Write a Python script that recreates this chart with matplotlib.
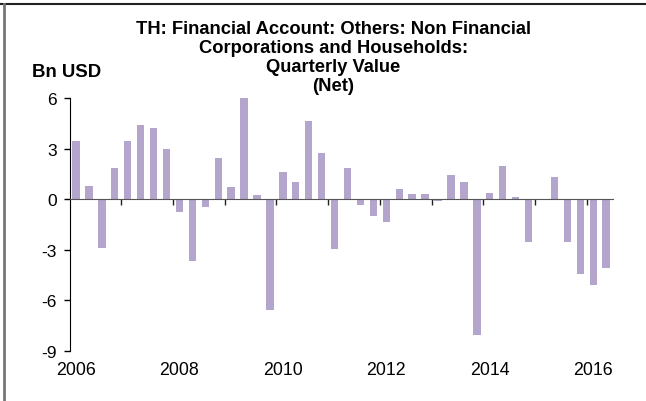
import numpy as np
import matplotlib.pyplot as plt
from matplotlib.lines import Line2D

plt.rcParams['font.family'] = ['Liberation Sans', 'DejaVu Sans']

# quarterly values, 2006Q1 .. 2016Q2 (Bn USD)
values = [3.45, 0.81, -2.90, 1.83,
          3.47, 4.40, 4.23, 2.96,
          -0.75, -3.67, -0.44, 2.44,
          0.73, 5.99, 0.22, -6.57,
          1.63, 1.01, 4.64, 2.74,
          -2.96, 1.83, -0.32, -0.99,
          -1.37, 0.62, 0.32, 0.28,
          -0.10, 1.41, 1.01, -8.08,
          0.36, 1.98, 0.12, -2.56,
          -0.06, 1.29, -2.52, -4.46,
          -5.10, -4.09]
start_year = 2006
year_labels = ['2006', '2008', '2010', '2012', '2014', '2016']
y_ticks = [-9, -6, -3, 0, 3, 6]
title_lines = ['TH: Financial Account: Others: Non Financial',
               'Corporations and Households:',
               'Quarterly Value',
               '(Net)']

x = start_year + (np.arange(len(values)) + 0.5) / 4.0

fig = plt.figure(figsize=(6.46, 4.02), dpi=100)
ax = fig.add_axes([0.1076, 0.1256, 0.8407, 0.6274])

ax.bar(x, values, width=0.25 * 0.57, color='#b3a5cc', zorder=2)

ax.set_xlim(start_year, start_year + len(values) / 4.0)
ax.set_ylim(-9, 6)
ax.set_yticks(y_ticks)
ax.set_yticklabels([str(v) for v in y_ticks], fontsize=12.5)
ax.tick_params(axis='y', direction='out', length=4, width=1, pad=5, color='black')

# x axis sits on the zero line, ticks at year boundaries
ax.spines['bottom'].set_position(('data', 0))
ax.spines['bottom'].set_color('#555555')
ax.spines['bottom'].set_zorder(3)
ax.set_xticks(np.arange(start_year + 1, start_year + 11))
ax.set_xticklabels([])
ax.tick_params(axis='x', direction='out', length=4, width=1, color='#222222')
ax.spines['top'].set_visible(False)
ax.spines['right'].set_visible(False)
ax.spines['left'].set_color('black')

for lab in year_labels:
    ax.text(int(lab) + 0.125, -0.076, lab, transform=ax.get_xaxis_transform(),
            ha='center', va='center', fontsize=12.8)

# title lines placed on their baselines
baselines = [0.9142, 0.8694, 0.8209, 0.7736]
for line, yy in zip(title_lines, baselines):
    fig.text(0.516, yy, line, ha='center', va='baseline', fontsize=13.2,
             fontweight='bold')
fig.text(0.0495, 0.8097, 'Bn USD', ha='left', va='baseline', fontsize=13.4,
         fontweight='bold')

# outer frame (top and left edges)
fig.add_artist(Line2D([0, 1], [0.987, 0.987], transform=fig.transFigure,
                      color='#222222', lw=1.5))
fig.add_artist(Line2D([0.0055, 0.0055], [0, 0.987], transform=fig.transFigure,
                      color='#777777', lw=2))

fig.savefig('out.png', dpi=100)
